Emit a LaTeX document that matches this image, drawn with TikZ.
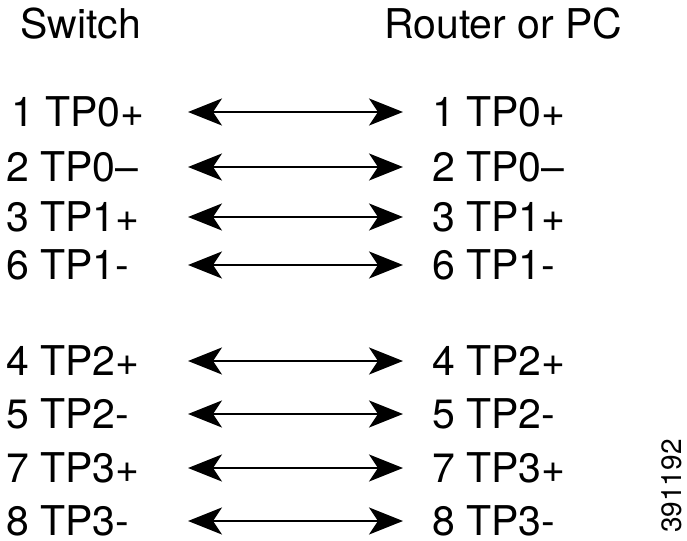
\documentclass[tikz,border=0pt]{standalone}
\usepackage{fontspec}
\setmainfont{TeX Gyre Heros}
\usetikzlibrary{arrows.meta}
\begin{document}
\begin{tikzpicture}[x=1pt,y=-1pt,
  lbl/.style={anchor=base west,inner sep=0pt,font=\fontsize{41}{48}\selectfont},
  tipstyle/.style={},
  conn/.style={line width=2.2pt,
    {Stealth[length=34pt,width=27pt,inset=9pt]}-{Stealth[length=34pt,width=27pt,inset=9pt]}}]
\useasboundingbox (0,0) rectangle (687,540);
\node[lbl] (sw) at (20,39) {Switch};
\node[lbl] (rt) at (384,39) {Router or PC};
\foreach \i/\y/\lx/\t in {1/112/11/1 TP0+, 2/167/6/2 TP0–, 3/217/6/3 TP1+, 4/265/6/6 TP1-,
    5/361/6/4 TP2+, 6/414/6/5 TP2-, 7/468/6/7 TP3+, 8/521/6/8 TP3-}{
  \node[lbl] (L\i) at (\lx,\y+14.7) {\t};
  \node[lbl] (R\i) at (432,\y+14.7) {\t};
  \coordinate (aL\i) at (188,\y);
  \coordinate (aR\i) at (403,\y);
  \draw[conn] (aL\i) -- (aR\i);
}
\node[rotate=90,inner sep=0pt,font=\fontsize{28}{30}\selectfont] (id) at (672,486) {391192};
\end{tikzpicture}
\end{document}
